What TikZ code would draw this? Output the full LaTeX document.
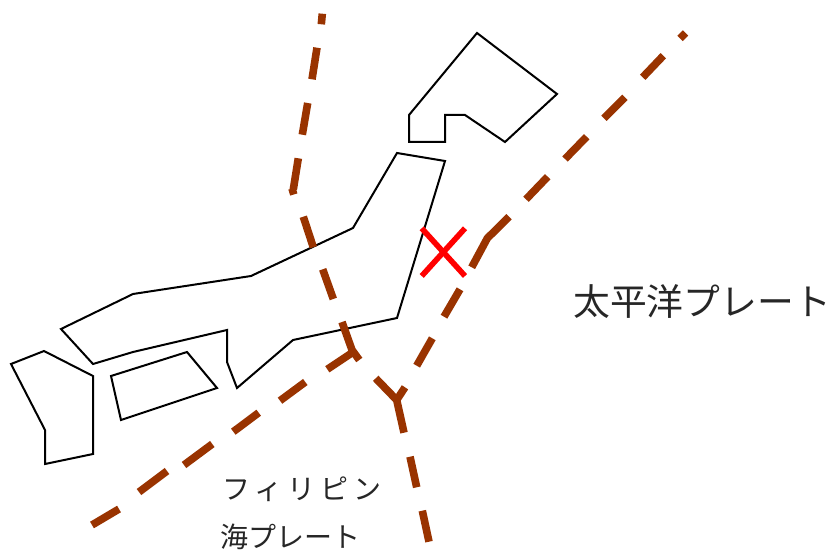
\documentclass[tikz,border=0pt]{standalone}
\usepackage{fontspec}
\newfontfamily\jp{Noto Sans CJK JP}
\definecolor{platebrown}{RGB}{153,51,0}
\tikzset{
  land/.style={draw=black,line width=1.5pt,line join=miter},
  plate/.style={draw=platebrown,line width=5.7pt,line join=bevel},
  cross/.style={draw=red,line width=4.2pt},
  bigtext/.style={font=\jp\fontsize{27.6pt}{30pt}\selectfont,text=black!85,inner sep=0pt,anchor=west},
  smalltext/.style={font=\jp\fontsize{21pt}{23pt}\selectfont,text=black!85,inner sep=0pt,anchor=west},
}
\begin{document}
\begin{tikzpicture}[x=0.75pt,y=-0.75pt]
\useasboundingbox (0,0) rectangle (831,552);
% land
\draw[land] (477,33)--(557,94)--(505,142)--(465,115)--(445,115)--(445,142)--(409,142)--(409,115)--cycle;
\draw[land] (397,153)--(445,161)--(397,318)--(293,340)--(237,388)--(227,362)--(227,330)--(133,352)--(93,364)--(61,329)--(133,294)--(251,276)--(353,228)--cycle;
\draw[land] (111,376)--(187,352)--(217,388)--(121,420)--cycle;
\draw[land] (11,364)--(44,351)--(93,376)--(93,454)--(45,464)--(45,430)--cycle;
% west line
\draw[plate] (322.3,13.7)--(321.3,24.3);
\draw[plate] (317,47.7)--(312,79.3);
\draw[plate] (307.7,103)--(302.3,134.7);
\draw[plate] (298.3,158.3)--(293.3,189.5);
\draw[plate] (292,188.5)--(293.8,194.5);
\draw[plate] (303.3,216.7)--(313.3,247.3);
\draw[plate] (322.7,269.3)--(333.3,299);
\draw[plate] (342,322)--(352,350)--(359.3,360);
\draw[plate] (327.3,369.3)--(352.5,352.5);
\draw[plate] (375.7,378.3)--(396.7,400)--(404,432.7);
\draw[plate] (396.7,400)--(405,387.3);
\draw[plate] (410,456.7)--(416.7,487.3);
\draw[plate] (422.3,510.7)--(429,541.7);
% south-west line
\draw[plate] (305.3,382)--(280,400.7);
\draw[plate] (258.7,412.7)--(233.3,431.7);
\draw[plate] (212.3,444)--(184,465);
\draw[plate] (167,471)--(139,492);
\draw[plate] (119,509)--(92,525);
% east line
\draw[plate] (685.5,33)--(680,38.5);
\draw[plate] (663.3,55.7)--(642.7,77.3);
\draw[plate] (625,97.3)--(604,118.3);
\draw[plate] (586.7,136.7)--(565,159);
\draw[plate] (547.7,176.7)--(526,199.3);
\draw[plate] (509,216.7)--(487.3,238.3)--(471.7,267.3);
\draw[plate] (460,289.3)--(444,316.7);
\draw[plate] (432.3,338.3)--(416.7,365.7);
% cross
\draw[cross] (421.7,228.3)--(465,276);
\draw[cross] (465,228.3)--(421.7,276);
% text
\node[bigtext] (pacific) at (573,302) {太平洋プレート};
\node[smalltext] (phil) at (222,489) {\addfontfeature{LetterSpace=18}フィリピン};
\node[smalltext] (philb) at (220,537) {海プレート};
\end{tikzpicture}
\end{document}
